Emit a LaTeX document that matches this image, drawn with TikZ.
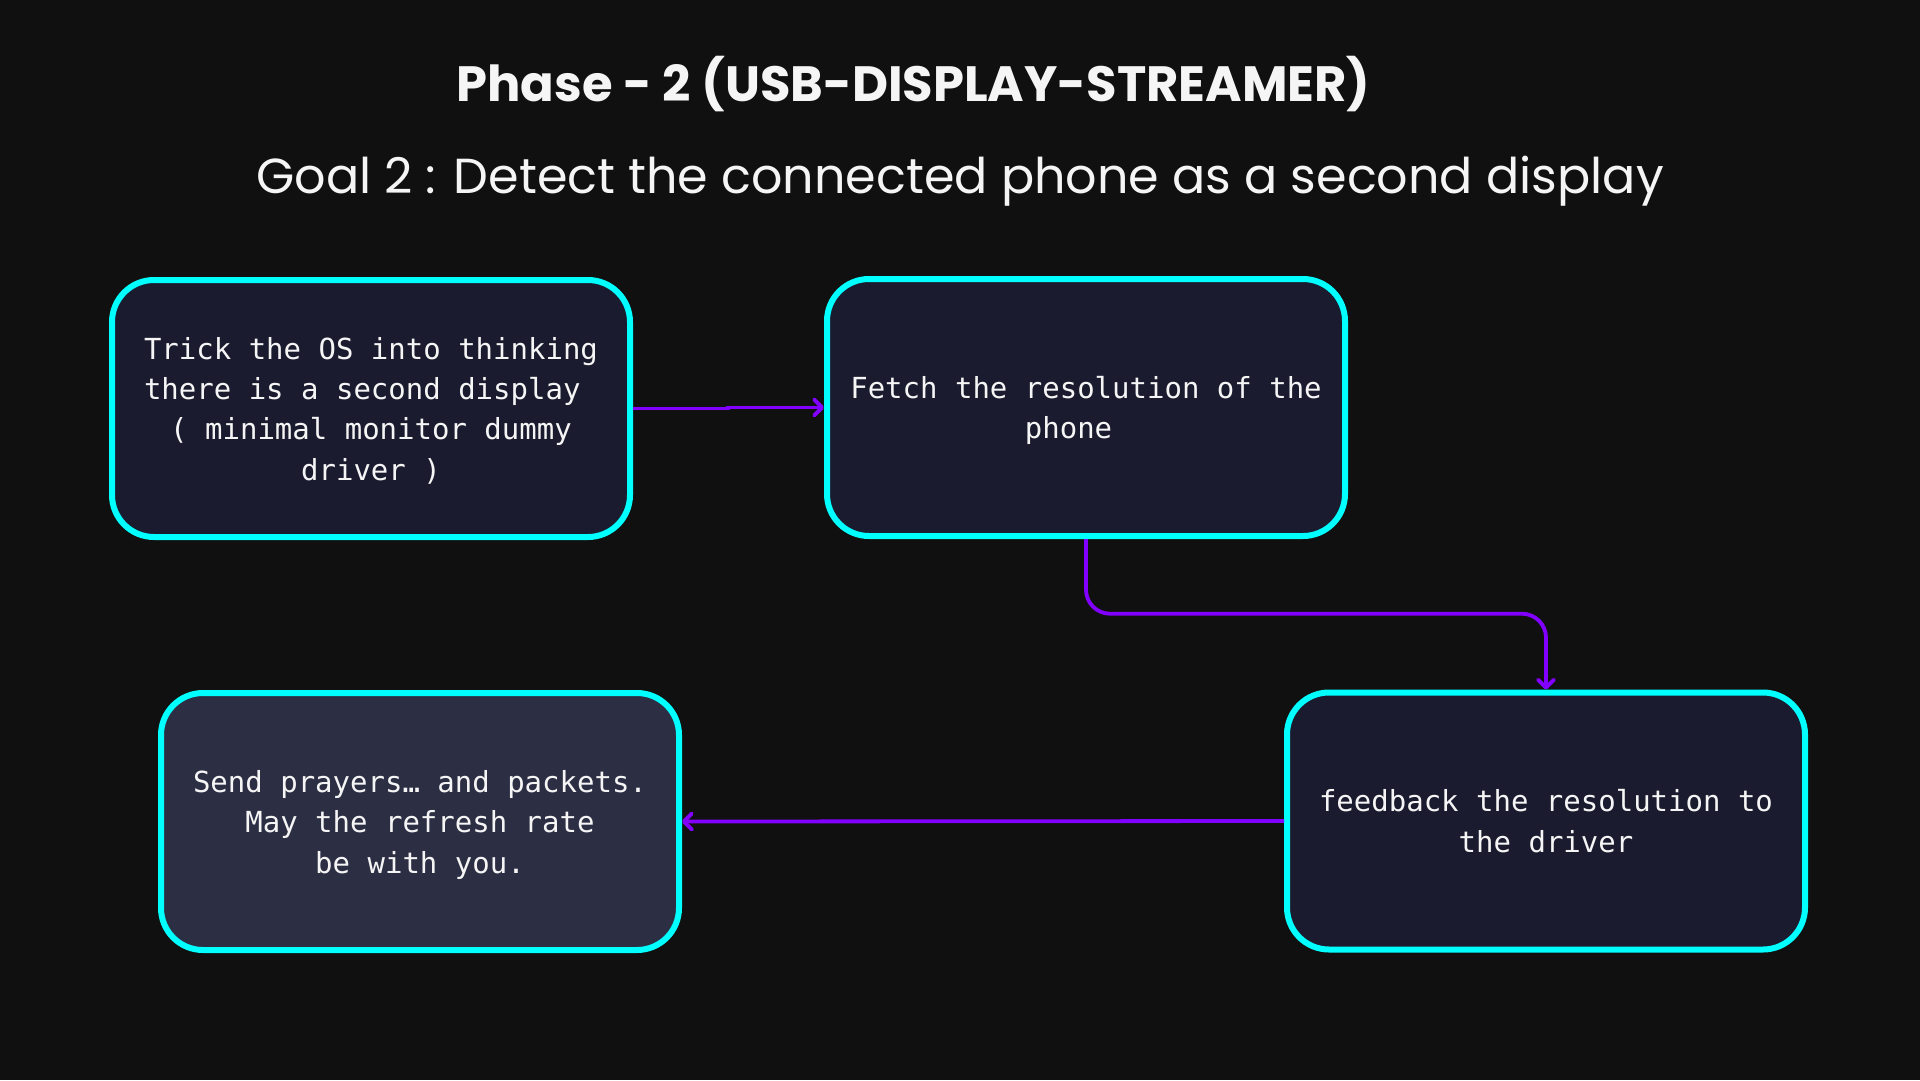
\documentclass[tikz,border=0pt]{standalone}
\usepackage{fontspec}
\setmonofont{DejaVu Sans Mono}
\newfontfamily\poppins{Poppins}
\usetikzlibrary{arrows.meta}
\newcommand\cardtop{\rule{0pt}{34.3pt}}
\newcommand\cardbot{\rule[-12.1pt]{0pt}{12.1pt}}
\definecolor{bg}{RGB}{16,16,16}
\definecolor{cardfill}{RGB}{27,27,47}
\definecolor{cardlight}{RGB}{44,46,68}
\definecolor{edgecyan}{RGB}{0,255,255}
\definecolor{flowpurple}{RGB}{130,0,255}
\definecolor{txt}{RGB}{245,245,245}
\tikzset{
  card/.style={rectangle, rounded corners=42pt, draw=edgecyan, line width=6pt,
    fill=cardfill, minimum width=518pt, minimum height=257pt, inner sep=0pt,
    text=txt, align=center, font=\ttfamily\fontsize{29}{40.4}\selectfont},
  flow/.style={draw=flowpurple, line width=3.8pt,
    -{Straight Barb[round,length=8pt,width=16pt]}},
}
\begin{document}
\begin{tikzpicture}[x=1pt,y=-1pt]
\fill[bg] (0,0) rectangle (1920,1080);
\useasboundingbox (0,0) rectangle (1920,1080);

\node[anchor=base, text=txt, font=\poppins\bfseries\fontsize{49.6}{56}\selectfont] (title) at (913.5,101) {Phase - 2 (USB-DISPLAY-STREAMER)};
\node[anchor=base, text=txt, font=\poppins\fontsize{49.2}{56}\selectfont] (goal) at (960,193) {Goal 2 : Detect the connected phone as a second display};

\node[card] (b1) at (371,408.5) {\cardtop Trick the OS into thinking\\there is a second display\ \mbox{}\\( minimal monitor dummy\\driver )\cardbot};
\node[card] (b2) at (1086,407.5) {\cardtop Fetch the resolution of the\\phone\ \ \mbox{}\cardbot};
\node[card] (b3) at (1546,821) {\cardtop feedback the resolution to\\the driver\cardbot};
\node[card, fill=cardlight] (b4) at (420,821.5) {\cardtop Send prayers… and packets.\\May the refresh rate\\be with you.\cardbot};

\coordinate (jog) at (728,0);
\coordinate (mid) at (1300,613.7);
\draw[flow] (b1.east) -- (b1.east -| jog) -- (jog |- b2.west) -- (b2.west);
\draw[flow, rounded corners=24pt] (b2.south) |- (mid) -| (b3.north);
\draw[flow] (b3.west) -- (b4.east);
\end{tikzpicture}
\end{document}
